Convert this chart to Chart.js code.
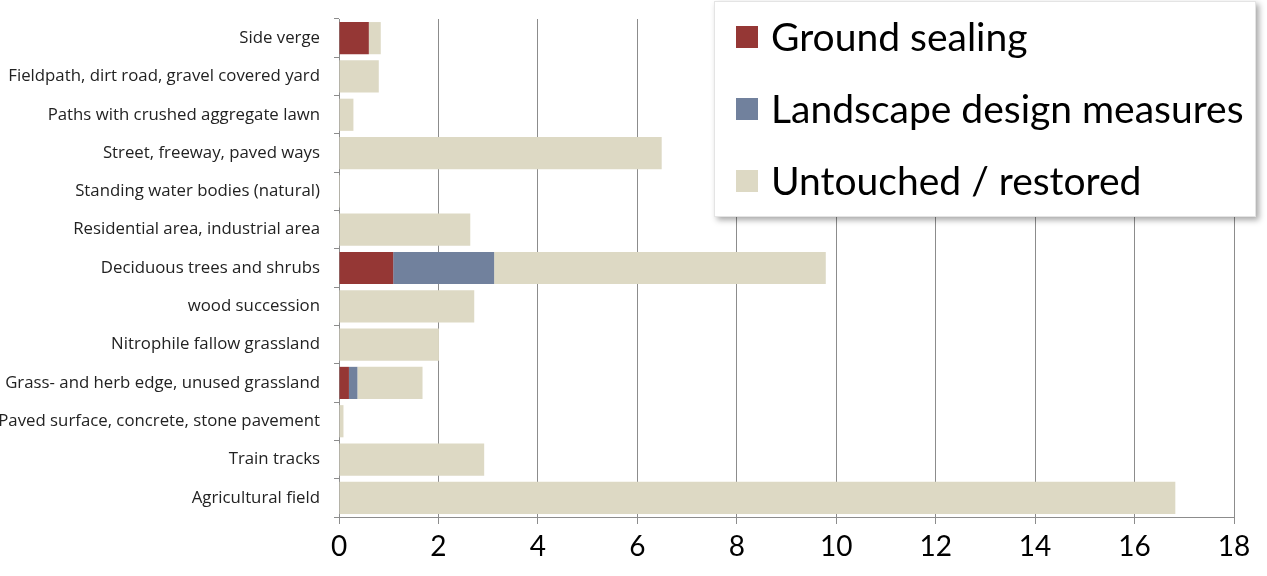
<!DOCTYPE html>
<html>
<head>
<meta charset="utf-8">
<script src="https://cdn.jsdelivr.net/npm/chart.js@4"></script>
<style>
  html, body { margin: 0; padding: 0; background: #fff; }
  #wrap { width: 1267px; height: 576px; position: relative; }
</style>
</head>
<body>
<div id="wrap"><canvas id="chart"></canvas></div>
<script>
// categories, top to bottom
const categories = [
  'Side verge',
  'Fieldpath, dirt road, gravel covered yard',
  'Paths with crushed aggregate lawn',
  'Street, freeway, paved ways',
  'Standing water bodies (natural)',
  'Residential area, industrial area',
  'Deciduous trees and shrubs',
  'wood succession',
  'Nitrophile fallow grassland',
  'Grass- and herb edge, unused grassland',
  'Paved surface, concrete, stone pavement',
  'Train tracks',
  'Agricultural field'
];

const seriesNames = ['Ground sealing', 'Landscape design measures', 'Untouched / restored'];
const seriesColors = ['#953735', '#71819d', '#ddd9c4'];

const groundSealing = [0.60, 0, 0, 0, 0, 0, 1.09, 0, 0, 0.20, 0, 0, 0];
const landscapeDesign = [0, 0, 0, 0, 0, 0, 2.03, 0, 0, 0.17, 0, 0, 0];
const untouched = [0.24, 0.80, 0.29, 6.49, 0.02, 2.64, 6.67, 2.72, 2.01, 1.31, 0.09, 2.92, 16.82];

const xTicks = [0, 2, 4, 6, 8, 10, 12, 14, 16, 18];

const FONT = "Lato, 'Open Sans', sans-serif";
const LABEL_FONT = "'Open Sans', Lato, sans-serif";

// legend drawn as a floating box over the top-right of the plot
const floatingLegend = {
  id: 'floatingLegend',
  afterDraw(chart) {
    const ctx = chart.ctx;
    const x = 714, y = 1, w = 542, h = 216;
    ctx.save();
    ctx.shadowColor = 'rgba(0,0,0,0.35)';
    ctx.shadowBlur = 6;
    ctx.shadowOffsetX = 3;
    ctx.shadowOffsetY = 3;
    ctx.fillStyle = '#fff';
    ctx.fillRect(x, y, w, h);
    ctx.restore();

    ctx.save();
    ctx.strokeStyle = '#e4e4e4';
    ctx.lineWidth = 1;
    ctx.strokeRect(x + 0.5, y + 0.5, w - 1, h - 1);
    ctx.font = '39px ' + FONT;
    ctx.textBaseline = 'middle';
    chart.data.datasets.forEach((ds, i) => {
      const cy = 37 + i * 72;
      ctx.fillStyle = ds.backgroundColor;
      ctx.fillRect(736, cy - 11, 22, 22);
      ctx.fillStyle = '#000';
      ctx.fillText(ds.label, 771, cy + 1);
    });
    ctx.restore();
  }
};

const datasets = [groundSealing, landscapeDesign, untouched].map((data, i) => ({
  label: seriesNames[i],
  data: data,
  backgroundColor: seriesColors[i],
  borderWidth: 0,
  barPercentage: 0.84,
  categoryPercentage: 1.0,
}));

new Chart(document.getElementById('chart'), {
  type: 'bar',
  data: { labels: categories, datasets: datasets },
  options: {
    indexAxis: 'y',
    responsive: true,
    maintainAspectRatio: false,
    animation: false,
    layout: { padding: { top: 19, right: 33, left: 0, bottom: 0 } },
    plugins: {
      legend: { display: false },
      tooltip: { enabled: false },
    },
    scales: {
      x: {
        stacked: true,
        min: 0,
        max: 18,
        afterBuildTicks: axis => { axis.ticks = xTicks.map(v => ({ value: v })); },
        grid: { color: '#8c8c8c', lineWidth: 1, tickLength: 7, drawTicks: true },
        border: { color: '#8c8c8c' },
        ticks: { color: '#000', font: { size: 28, family: FONT }, padding: 6, maxRotation: 0 },
        afterFit: axis => { axis.height = 59; },
      },
      y: {
        stacked: true,
        grid: { display: true, drawOnChartArea: false, offset: true, color: '#8c8c8c', tickLength: 5 },
        border: { color: '#8c8c8c' },
        ticks: { color: '#222', font: { size: 16.8, family: LABEL_FONT }, padding: 14, autoSkip: false },
        afterFit: axis => {
          axis.width = 339;
          axis.paddingTop = 0;
          axis.paddingBottom = 0;
        },
      },
    },
  },
  plugins: [floatingLegend],
});
</script>
</body>
</html>
